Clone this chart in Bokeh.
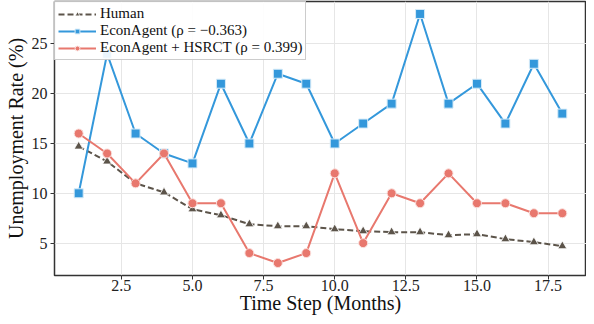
from bokeh.plotting import figure
from bokeh.models import FixedTicker, PrintfTickFormatter, Range1d, Legend, LegendItem
from bokeh.embed import file_html
from bokeh.resources import INLINE

months = list(range(1, 19))
human = [14.7, 13.2, 11.0, 10.1, 8.4, 7.8, 6.9, 6.7, 6.7, 6.4, 6.2, 6.1, 6.1, 5.8, 5.9, 5.4, 5.1, 4.7]
econagent = [10, 24, 16, 14, 13, 21, 15, 22, 21, 15, 17, 19, 28, 19, 21, 17, 23, 18]
hsrct = [16, 14, 11, 14, 9, 9, 4, 3, 4, 12, 5, 10, 9, 12, 9, 9, 8, 8]
x_ticks = [2.5, 5.0, 7.5, 10.0, 12.5, 15.0, 17.5]
y_ticks = [5, 10, 15, 20, 25]
labels = ["Human", "EconAgent (ρ = −0.363)", "EconAgent + HSRCT (ρ = 0.399)"]

FONT = "Liberation Serif"
GREY = "#5c544a"
BLUE = "#3498db"
RED = "#e8786e"

p = figure(width=586, height=316, output_backend="svg", toolbar_location=None,
           x_range=Range1d(0.15, 18.85), y_range=Range1d(1.75, 29.25),
           min_border_left=54, min_border_right=0, min_border_top=1, min_border_bottom=30)
p.outline_line_color = "#333333"
p.outline_line_width = 1.5
p.background_fill_color = "white"
p.border_fill_color = "white"

p.axis.axis_line_color = None
p.axis.major_tick_line_color = "#333333"
p.axis.major_tick_in = 0
p.axis.major_tick_out = 4
p.axis.minor_tick_line_color = None
p.axis.major_label_text_font = FONT
p.axis.major_label_text_font_size = "16px"
p.axis.major_label_text_color = "#222222"
p.axis.axis_label_text_font = FONT
p.axis.axis_label_text_font_size = "20px"
p.axis.axis_label_text_font_style = "normal"
p.axis.axis_label_text_color = "#111111"

p.xaxis.ticker = FixedTicker(ticks=x_ticks)
p.xaxis.formatter = PrintfTickFormatter(format="%.1f")
p.yaxis.ticker = FixedTicker(ticks=y_ticks)
p.xaxis.axis_label = "Time Step (Months)"
p.yaxis.axis_label = "Unemployment Rate (%)"
p.xaxis.axis_label_standoff = -2
p.yaxis.axis_label_standoff = 2
p.xaxis.major_label_standoff = 0
p.yaxis.major_label_standoff = 3

p.grid.grid_line_color = "#e6e6e6"
p.grid.grid_line_width = 1

l1 = p.line(months, human, line_color=GREY, line_width=2, line_dash="6 3")
m1 = p.scatter(months, human, marker="triangle", size=9, fill_color=GREY,
               line_color="white", line_width=0.8)
l2 = p.line(months, econagent, line_color=BLUE, line_width=2)
m2 = p.scatter(months, econagent, marker="square", size=9, fill_color=BLUE,
               line_color="#d6ebf8", line_width=1)
l3 = p.line(months, hsrct, line_color=RED, line_width=2)
m3 = p.scatter(months, hsrct, marker="circle", size=9, fill_color=RED,
               line_color="#fbe0dd", line_width=1)

legend = Legend(items=[LegendItem(label=labels[0], renderers=[l1, m1]),
                       LegendItem(label=labels[1], renderers=[l2, m2]),
                       LegendItem(label=labels[2], renderers=[l3, m3])],
                location="top_left")
legend.label_text_font = FONT
legend.label_text_font_size = "15px"
legend.label_text_color = "#111111"
legend.label_text_line_height = 0.8
legend.label_height = 12
legend.glyph_height = 12
legend.glyph_width = 38
legend.label_standoff = 4
legend.spacing = 0
legend.padding = 3
legend.margin = 0
legend.border_line_color = "#999999"
legend.border_line_width = 1
legend.background_fill_alpha = 0.9
p.add_layout(legend)

open("out.html", "w").write(file_html(p, INLINE))
